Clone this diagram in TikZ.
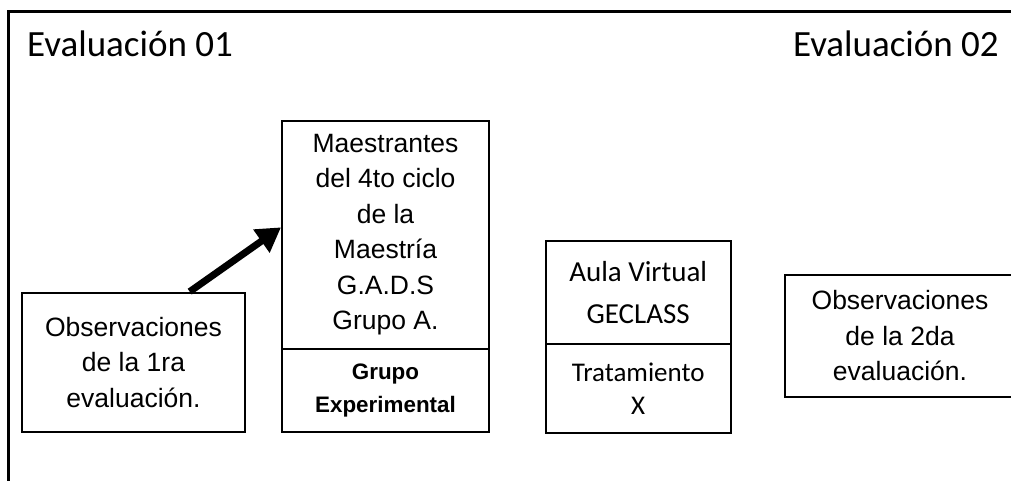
\documentclass[tikz,border=0pt]{standalone}
\usepackage{fontspec}
\setmainfont{Liberation Sans}
\newfontfamily\calfont{Carlito}
\usetikzlibrary{arrows.meta}
\begin{document}
\begin{tikzpicture}[x=1pt,y=-1pt,
  frameline/.style={line width=3pt},
  cell/.style={draw, line width=2pt, inner sep=0pt, align=center,
    font=\fontsize{26.5}{35.5}\selectfont},
  boldcell/.style={cell, font=\fontsize{22.4}{33}\selectfont\bfseries},
  calcellA/.style={cell, font=\fontsize{29}{42}\selectfont\calfont},
  calcellB/.style={cell, font=\fontsize{27}{33}\selectfont\calfont},
  title/.style={inner sep=0pt, font=\fontsize{37}{44}\selectfont\calfont},
  bigarrow/.style={line width=7pt, -{Triangle[length=24pt,width=27pt]}}]
\useasboundingbox (0,0) rectangle (1011,481);
% frame
\coordinate (fbl) at (8,490);
\coordinate (ftl) at (8,12);
\coordinate (ftr) at (1020,12);
\draw[frameline] (fbl) -- (ftl) -- (ftr);
% titles
\node[title, anchor=base west] (ev1) at (27,57) {Evaluación 01};
\node[title, anchor=base east] (ev2) at (999,57) {Evaluación 02};
% boxes
\node[cell, minimum width=223pt, minimum height=139.3pt] (obs1) at (133.5,362.3)
  {Observaciones\\de la 1ra\\evaluación.};
\node[cell, minimum width=207pt, minimum height=228.3pt] (mae) at (385.5,234.85)
  {Maestrantes\\del 4to ciclo\\de la\\Maestría\\G.A.D.S\\Grupo A.};
\node[boldcell, minimum width=207pt, minimum height=82.7pt] (grp) at (385.5,390.35)
  {Grupo\\Experimental};
\node[calcellA, minimum width=185pt, minimum height=102.7pt] (aula) at (638.2,292.65)
  {Aula Virtual\\GECLASS};
\node[calcellB, minimum width=185pt, minimum height=88.7pt] (trat) at (638.2,388.35)
  {Tratamiento\\X};
\node[cell, minimum width=230pt, minimum height=122pt] (obs2) at (900,336)
  {Observaciones\\de la 2da\\evaluación.};
% arrow
\draw[bigarrow] ([xshift=168.7pt]obs1.north west) -- ([yshift=7.5pt]mae.west);
\end{tikzpicture}
\end{document}
